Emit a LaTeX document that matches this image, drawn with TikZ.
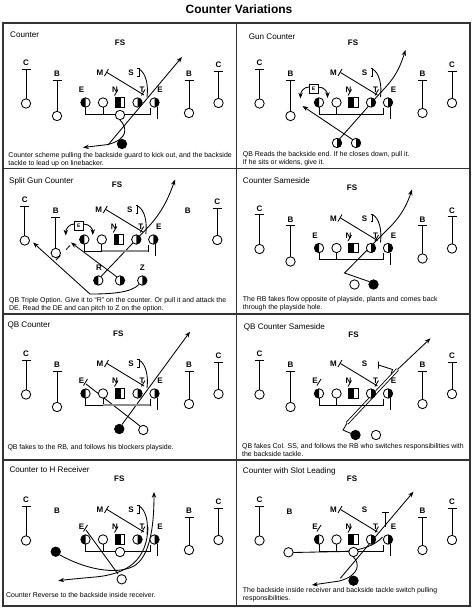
\documentclass[tikz,border=0pt]{standalone}
\usepackage{fontspec}
\setmainfont{Liberation Sans}
\usetikzlibrary{arrows.meta}
\tikzset{
 pl/.style={line width=0.85pt},
 arr/.style={line width=0.85pt,-{Stealth[length=5.8pt,width=4.4pt]}},
 lab/.style={font=\fontsize{8}{8}\selectfont\bfseries,inner sep=0pt},
 ptitle/.style={font=\fontsize{8.1}{9}\selectfont,anchor=base west,inner sep=0pt},
 dsc/.style={font=\fontsize{6.95}{8}\selectfont,anchor=base west,inner sep=0pt},
 frame/.style={line width=1.2pt,draw=black!80}
}
\newcommand\oc[2]{\draw[pl,fill=white] (#1,#2) circle (4.7);}
\newcommand\fc[2]{\draw[pl,fill=black] (#1,#2) circle (4.7);}
\newcommand\hlc[2]{\fill[white] (#1,#2) circle (4.7);
  \begin{scope}\clip ({#1-6},{#2-6}) rectangle (#1,{#2+6});\fill (#1,#2) circle (4.7);\end{scope}
  \draw[pl] (#1,#2) circle (4.7);}
\newcommand\hrc[2]{\fill[white] (#1,#2) circle (4.7);
  \begin{scope}\clip (#1,{#2-6}) rectangle ({#1+6},{#2+6});\fill (#1,#2) circle (4.7);\end{scope}
  \draw[pl] (#1,#2) circle (4.7);}
\newcommand\ctrsq[2]{\draw[pl,fill=white] ({#1-4.6},{#2-4.6}) rectangle ({#1+4.6},{#2+4.6});
  \fill ({#1-4.6},{#2-4.6}) rectangle ({#1+0.5},{#2+4.6});}
\newcommand\dback[4]{\node[lab] at (#1,#2) {#4};
  \draw[pl] ({#1-4.5},{#2+6}) -- ({#1+4.5},{#2+6}) (#1,{#2+6}) -- (#1,{#3-4.7});
  \oc{#1}{#3}}
\newcommand\pcore{%
 \dback{23}{40}{80.5}{C}
 \dback{215.5}{42}{80}{C}
 \draw[pl] (82.5,84) -- (82.5,91) -- (147,91) -- (147,84.5) (100,84) -- (100,91) (154,84) -- (154,96);
 \hlc{82.5}{79.5} \oc{100}{79.5} \ctrsq{117}{79.5} \hrc{134.5}{79.5} \hrc{151.5}{79.5}
 \node[lab] at (97,50) {M}; \draw[pl] (101.5,53) -- (105.5,46); \draw[pl] (104,49.5) -- (141,72);
 \node[lab] at (128,50) {S};
 \node[lab] at (112,67) {N}; \draw[pl] (111.5,72.5) -- (115,66.5);
 \node[lab] at (139,67) {T}; \draw[pl] (138.5,72.5) -- (142,66.5);
 \node[lab] at (157,67) {E};
}
\newcommand\psbr{\draw[pl] (134,45.5) -- (136,45.5) -- (136,53) -- (134,53);
 \draw[pl] (136,46) .. controls (143,50) and (145.5,62) .. (144,74);}
\newcommand\pbl{\dback{54}{51}{93}{B}}
\newcommand\pbr{\dback{186}{51}{90}{B}}
\newcommand\pel{\node[lab] at (78.5,67) {E};}
\newcommand\pels{\pel \draw[pl] (80.5,71.5) -- (84.5,65);}
\newcommand\pqb{\oc{117}{92}}
\newcommand\ebox[2]{\draw[pl,fill=white] ({#1-4.5},{#2-4.5}) rectangle ({#1+4.5},{#2+4.5});
 \node[font=\fontsize{5}{5}\selectfont\bfseries,inner sep=0pt] at (#1,#2) {E};}
\begin{document}
\begin{tikzpicture}[x=1pt,y=-1pt]
\useasboundingbox (0,0) rectangle (474,613);
\fill[white] (0,0) rectangle (474,613);
\node[font=\fontsize{12}{14}\selectfont\bfseries,inner sep=0pt] (title) at (239,9.5) {Counter Variations};

% Panel 1
\begin{scope}[shift={(3,23)}]
\node[ptitle] (t1) at (7,14.4) {Counter};
\draw[arr] (105,122) -- (179,34);
\draw[arr] (117,97) .. controls (124,104) and (126,116) .. (105,121.5) -- (80,124.5);
\node[lab] at (117,20) {FS};
\pcore \psbr \pbl \pbr \pel \pqb
\fc{119}{121}
\node[dsc] (d1a) at (5.3,134) {Counter scheme pulling the backside guard to kick out, and the backside};
\node[dsc] (d1b) at (5.3,142) {tackle to lead up on linebacker.};
\end{scope}

% Panel 2
\begin{scope}[shift={(236.5,23)}]
\node[ptitle] (t2) at (12.2,16.6) {Gun Counter};
\draw[arr] (103,116) -- (141,73) .. controls (155,58) and (161,52) .. (169,27);
\draw[arr] (116,116.5) -- (66,83);
\draw[arr] (72.5,64) .. controls (67,64) and (64,69) .. (64,75.5);
\draw[arr] (81.5,64) .. controls (88,64) and (91,69) .. (91,75);
\node[lab] at (116.5,20) {FS};
\pcore \psbr \pbl \pbr
\ebox{77}{66}
\hrc{100.5}{120} \hrc{119.5}{120}
\node[dsc] (d2a) at (6.2,133.7) {QB Reads the backside end. If he closes down, pull it.};
\node[dsc] (d2b) at (6.2,141.7) {If he sits or widens, give it.};
\end{scope}

% Panel 3
\begin{scope}[shift={(3,168.5)}]
\node[ptitle] (t3) at (6,15.1) {Split Gun Counter};
\draw[arr] (98,108) -- (138,66) .. controls (152,52) and (162,40) .. (172,11);
\draw[arr] (114,108.5) -- (68,74);
\draw[arr] (136,116) .. controls (128,124) and (110,125.5) .. (87,125.5) -- (30,74);
\draw[pl] (63,81.2) -- (67,77);
\draw[pl] (53,91.5) -- (57.5,87);
\node[lab] at (114,16.5) {FS};
\begin{scope}[shift={(-1.2,-8.5)}]
\draw[arr] (72.5,64) .. controls (67,64) and (64,69) .. (64,75.5);
\draw[arr] (81.5,64) .. controls (88,64) and (91,69) .. (91,75);
\pcore \psbr \pbl
\node[lab] at (186,51) {B};
\draw[line width=1.6pt,black!45] (100,91) -- (146.5,91);
\ebox{77}{66}
\end{scope}
\node[lab] at (96,99.5) {R};
\node[lab] at (139.3,99.5) {Z};
\hlc{95.3}{112} \hrc{117}{112} \hrc{139.3}{112}
\node[dsc] (d3a) at (6,133.5) {QB Triple Option. Give it to ``R'' on the counter. Or pull it and attack the};
\node[dsc] (d3b) at (6,141.5) {DE. Read the DE and can pitch to Z on the option.};
\end{scope}

% Panel 4
\begin{scope}[shift={(236.5,168.5)}]
\node[ptitle] (t4) at (6.2,15.1) {Counter Sameside};
\draw[arr] (132.5,113) -- (108,104.5) -- (144,68) .. controls (155,57) and (167,47) .. (175.5,21);
\node[lab] at (115.5,19.5) {FS};
\pcore \psbr \pbl \pbr \pel
\oc{118}{116} \fc{137}{116}
\node[dsc] (d4a) at (6.2,132.8) {The RB fakes flow opposite of playside, plants and comes back};
\node[dsc] (d4b) at (6.2,140.8) {through the playside hole.};
\end{scope}

% Panel 5
\begin{scope}[shift={(3,314)}]
\node[ptitle] (t5) at (4.3,13.9) {QB Counter};
\draw[arr] (119,110.5) -- (187,17.7);
\draw[pl] (83,70) -- (137,112);
\node[lab] at (115.3,19.3) {FS};
\pcore \psbr \pbl \pbr \pels
\draw[line width=1.6pt,black!45] (100,91) -- (146.5,91);
\fc{116.3}{115} \oc{140.3}{116}
\node[dsc] (d5a) at (4.3,135.7) {QB fakes to the RB, and follows his blockers playside.};
\end{scope}

% Panel 6
\begin{scope}[shift={(236.5,314)}]
\node[ptitle] (t6) at (7.2,15.6) {QB Counter Sameside};
\draw[pl,double,double distance=1.6pt] (110.5,109.3) -- (161,55.5);
\draw[arr] (161,55.5) -- (194,24.3);
\draw[pl] (114.5,119.5) -- (106.5,116) -- (110.5,109.3);
\node[lab] at (117,20.3) {FS};
\pcore \pbl \pbr \pels
\draw[pl] (142,47.5) -- (142,54.5) (142,51) -- (156,55.5) -- (154.5,60.5);
\fc{119}{121} \oc{139.5}{121}
\node[dsc] (d6a) at (5.5,134.3) {QB fakes Col. SS, and follows the RB who switches responsibilities with};
\node[dsc] (d6b) at (5.5,142.3) {the backside tackle.};
\end{scope}

% Panel 7
\begin{scope}[shift={(3,460)}]
\node[ptitle] (t7) at (6.3,12.9) {Counter to H Receiver};
\draw[pl] (83,70) -- (115,114);
\draw[arr] (57,95) .. controls (80,108) and (112,116) .. (131,106) .. controls (146,97) and (151,70) .. (151,32);
\draw[arr] (145,67) .. controls (144,100) and (125,114) .. (92,117) .. controls (75,118.5) and (65,119.5) .. (55.3,120.7);
\node[lab] at (116.3,18.3) {FS};
\pcore \psbr \pbr \pels \pqb
\node[lab] at (54,51) {B};
\fc{52.7}{91.7} \oc{118.7}{119.3}
\node[dsc] (d7a) at (3,137.3) {Counter Reverse to the backside inside receiver.};
\end{scope}

% Panel 8
\begin{scope}[shift={(236.5,460)}]
\node[ptitle] (t8) at (6.2,13.9) {Counter with Slot Leading};
\draw[pl] (56.6,92.5) -- (107,91.5) .. controls (125,90) and (138,86) .. (146,77);
\draw[arr] (103.8,118.3) -- (177,31.7);
\draw[arr] (117,97) .. controls (123,103) and (124,115) .. (103,121) -- (75.5,125);
\node[lab] at (115.5,19) {FS};
\pcore \pbr \pels \pqb
\node[lab] at (53,51.7) {B};
\draw[pl] (145.5,52.7) -- (152.8,52.7) (149,52.7) -- (149,66.7);
\oc{52}{92.3} \fc{117}{120.7}
\node[dsc] (d8a) at (6.2,132.3) {The backside inside receiver and backside tackle switch pulling};
\node[dsc] (d8b) at (6.2,140.3) {responsibilities.};
\end{scope}

% frame
\draw[frame] (3,23) rectangle (470,606);
\draw[frame] (236.5,23) -- (236.5,606);
\draw[frame] (3,168.5) -- (470,168.5) (3,314) -- (470,314) (3,460) -- (470,460);
\end{tikzpicture}
\end{document}
